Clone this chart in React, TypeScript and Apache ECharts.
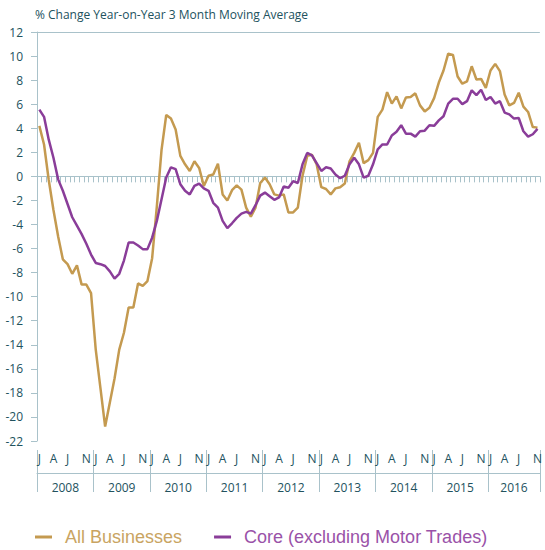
import React, { useEffect, useRef } from "react";
import * as echarts from "echarts";

const years = ["2008", "2009", "2010", "2011", "2012", "2013", "2014", "2015", "2016"];
const monthLetters = ["J", "F", "M", "A", "M", "J", "J", "A", "S", "O", "N", "D"];
const monthCount = 107; // Jan 2008 .. Nov 2016

const allBusinesses = [
  4.2, 2.65, -0.3, -2.8, -5.0, -6.9, -7.3, -8.1, -7.4, -9.0, -9.0, -9.7,
  -14.4, -17.6, -20.8, -18.8, -16.8, -14.4, -13.0, -10.9, -10.9, -8.9, -9.1, -8.7,
  -6.8, -2.5, 2.2, 5.1, 4.8, 3.9, 1.7, 1.0, 0.45, 1.25, 0.7, -0.8,
  0.05, 0.15, 1.05, -1.5, -2.0, -1.15, -0.75, -1.1, -2.6, -3.35, -2.6, -0.55,
  -0.1, -0.65, -1.5, -1.6, -1.5, -3.0, -3.0, -2.6, 0.05, 1.7, 1.8, 1.0,
  -0.9, -1.05, -1.5, -1.0, -0.9, -0.6, 1.25, 1.95, 2.8, 1.1, 1.35, 1.95,
  4.95, 5.55, 7.0, 6.05, 6.65, 5.65, 6.55, 6.6, 6.9, 5.9, 5.4, 5.7,
  6.5, 7.8, 8.8, 10.2, 10.1, 8.3, 7.7, 7.9, 9.15, 8.05, 8.1, 7.35,
  8.8, 9.35, 8.75, 6.8, 5.9, 6.1, 6.95, 5.8, 5.35, 4.1, 4.05,
];

const coreExMotor = [
  5.55, 4.95, 3.05, 1.55, -0.25, -1.2, -2.3, -3.4, -4.1, -4.8, -5.6, -6.5,
  -7.2, -7.3, -7.45, -7.9, -8.5, -8.1, -7.0, -5.5, -5.5, -5.75, -6.05, -6.05,
  -5.1, -3.7, -1.9, -0.1, 0.75, 0.6, -0.65, -1.2, -1.5, -0.8, -0.6, -1.0,
  -1.2, -2.2, -2.6, -3.7, -4.3, -3.9, -3.45, -3.1, -2.95, -3.1, -2.4, -1.6,
  -1.35, -1.65, -1.95, -1.75, -0.85, -0.95, -0.4, -0.55, 1.0, 1.95, 1.75, 1.1,
  0.45, 0.75, 0.65, 0.15, -0.15, 0.05, 1.0, 1.55, 1.0, -0.1, 0.05, 1.0,
  2.25, 2.65, 2.65, 3.4, 3.7, 4.25, 3.55, 3.55, 3.3, 3.75, 3.8, 4.25,
  4.2, 4.65, 5.0, 6.05, 6.45, 6.45, 6.0, 6.25, 7.15, 6.75, 7.2, 6.35,
  6.6, 6.05, 6.25, 5.3, 5.15, 4.8, 4.85, 3.75, 3.3, 3.5, 3.95,
];

const shownMonths = ["J", "A", "J", "N"];
const shownMonthIdx = [0, 3, 6, 10];

const seriesNames = ["All Businesses", "Core (excluding Motor Trades)"];
const titleText = "% Change Year-on-Year 3 Month Moving Average";

const GOLD = "#c49a50";
const PURPLE = "#8a3d99";
const AXIS = "#a9c2ca";
const TEXT = "#22525e";
const FONT = "'Open Sans', 'Noto Sans', sans-serif";

const categories: string[] = [];
for (let i = 0; i < monthCount; i++) {
  categories.push(years[Math.floor(i / 12)] + " " + monthLetters[i % 12]);
}

export default function App() {
  const ref = useRef<HTMLDivElement>(null);
  useEffect(() => {
    if (!ref.current) return;
    const chart = echarts.init(ref.current, null, { renderer: "svg" });
    const splitColors: string[] = [];
    for (let v = -22; v <= 12; v += 2) {
      splitColors.push(v === 0 || v === 12 ? AXIS : "rgba(0,0,0,0)");
    }
    const lastYearIdx = Math.floor((monthCount - 1) / 12);
    chart.setOption({
      animation: false,
      textStyle: { fontFamily: FONT },
      title: {
        text: titleText,
        left: 30,
        top: 3,
        textStyle: { fontFamily: FONT, fontSize: 12, fontWeight: "normal", color: TEXT },
      },
      legend: {
        left: 30,
        top: 523,
        icon: "rect",
        itemWidth: 17,
        itemHeight: 3,
        itemGap: 32,
        textStyle: {
          fontFamily: "'Liberation Sans', Arial, sans-serif",
          fontSize: 18,
          padding: [0, 0, 0, 8],
        },
        data: [
          { name: seriesNames[0], textStyle: { color: "#c9a462" } },
          { name: seriesNames[1], textStyle: { color: "#9a52a8" } },
        ],
      },
      grid: { left: 37, right: 0, top: 32, bottom: 109, containLabel: false },
      xAxis: [
        {
          type: "category",
          data: categories,
          boundaryGap: true,
          axisLine: { show: true, lineStyle: { color: AXIS, width: 1 } },
          axisTick: { show: true, interval: 0, length: 6, lineStyle: { color: AXIS } },
          axisLabel: {
            interval: (idx: number) => shownMonthIdx.indexOf(idx % 12) >= 0,
            formatter: (_v: string, idx: number) => shownMonths[shownMonthIdx.indexOf(idx % 12)] || "",
            color: TEXT,
            fontSize: 12,
            margin: 11,
            fontFamily: FONT,
          },
          splitLine: { show: false },
        },
        {
          type: "category",
          data: categories,
          position: "bottom",
          offset: 32,
          boundaryGap: true,
          axisLine: { show: true, lineStyle: { color: AXIS, width: 1 } },
          axisTick: {
            show: true,
            interval: (idx: number) => idx % 12 === 0,
            length: 19,
            lineStyle: { color: AXIS },
          },
          axisLabel: {
            interval: (idx: number) => idx % 12 === 5,
            formatter: (v: string, idx: number) => {
              const y = v.split(" ")[0];
              return Math.floor(idx / 12) === lastYearIdx ? "{b|" + y + "}" : "{a|" + y + "}";
            },
            rich: {
              a: { padding: [0, 0, 0, 5], color: TEXT, fontSize: 12, fontFamily: FONT },
              b: { color: TEXT, fontSize: 12, fontFamily: FONT },
            },
            color: TEXT,
            fontSize: 12,
            margin: 8,
          },
          splitLine: { show: false },
        },
        {
          type: "category",
          data: categories,
          position: "bottom",
          offset: 32,
          boundaryGap: true,
          axisLine: { show: false },
          axisTick: {
            show: true,
            inside: true,
            interval: (idx: number) => idx % 12 === 0,
            length: 23,
            lineStyle: { color: AXIS },
          },
          axisLabel: { show: false },
          splitLine: { show: false },
        },
      ],
      yAxis: {
        type: "value",
        min: -22,
        max: 12,
        interval: 2,
        axisLine: { show: true, lineStyle: { color: AXIS, width: 1 } },
        axisTick: { show: true, length: 6, lineStyle: { color: AXIS } },
        axisLabel: { color: TEXT, fontSize: 12, margin: 14, fontFamily: FONT },
        splitLine: { show: true, lineStyle: { color: splitColors, width: 1 } },
      },
      series: [
        {
          name: seriesNames[0],
          type: "line",
          data: allBusinesses,
          xAxisIndex: 0,
          showSymbol: false,
          symbol: "none",
          color: GOLD,
          lineStyle: { color: GOLD, width: 2.5 },
        },
        {
          name: seriesNames[1],
          type: "line",
          data: coreExMotor,
          xAxisIndex: 0,
          showSymbol: false,
          symbol: "none",
          color: PURPLE,
          lineStyle: { color: PURPLE, width: 2.5 },
        },
      ],
    });
    return () => chart.dispose();
  }, []);
  return (
    <div
      ref={ref}
      style={{ position: "fixed", left: 0, top: 0, width: 545, height: 550, background: "#fff" }}
    />
  );
}
